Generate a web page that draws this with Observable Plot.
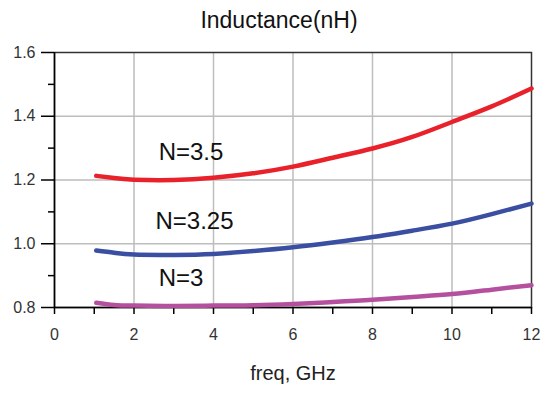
<!DOCTYPE html>
<html>
<head>
<meta charset="utf-8">
<script src="https://cdn.jsdelivr.net/npm/d3@7"></script>
<script src="https://cdn.jsdelivr.net/npm/@observablehq/plot@0.6"></script>
<style>
  body { margin: 0; background: #fff; font-family: "Liberation Sans", Arial, sans-serif; }
  #title { width: 558px; height: 40px; line-height: 40px; text-align: center; font-size: 23px; color: #111; }
</style>
</head>
<body>
<div id="title">Inductance(nH)</div>
<div id="chart"></div>
<script>
const freq = [1.05, 1.5, 2, 3, 4, 5, 6, 7, 8, 9, 10, 11, 12];
const n35  = [1.213, 1.206, 1.201, 1.200, 1.207, 1.221, 1.242, 1.270, 1.299, 1.335, 1.382, 1.431, 1.487];
const n325 = [0.979, 0.972, 0.966, 0.965, 0.968, 0.977, 0.989, 1.004, 1.021, 1.041, 1.063, 1.093, 1.126];
const n3   = [0.815, 0.808, 0.806, 0.805, 0.806, 0.807, 0.811, 0.817, 0.824, 0.833, 0.842, 0.856, 0.870];

const seriesNames = ["N=3.5", "N=3.25", "N=3"];
const seriesColors = ["#e8212b", "#3a4ea2", "#b5509f"];
const labelX = [2.62, 2.54, 2.62];
const labelY = [1.288, 1.071, 0.892];

const xTicks = [0, 1, 2, 3, 4, 5, 6, 7, 8, 9, 10, 11, 12];
const xLabelTicks = [0, 2, 4, 6, 8, 10, 12];
const yMajor = [0.8, 1.0, 1.2, 1.4, 1.6];
const yMinor = [0.9, 1.1, 1.3, 1.5];
const xGrid = [2, 4, 6, 8, 10];
const yGrid = [1.0, 1.2, 1.4];

const rows = [];
[n35, n325, n3].forEach((vals, s) => {
  vals.forEach((v, i) => rows.push({f: freq[i], L: v, series: seriesNames[s]}));
});
const labels = seriesNames.map((n, i) => ({name: n, x: labelX[i], y: labelY[i]}));

const chart = Plot.plot({
  width: 558,
  height: 353,
  marginLeft: 54,
  marginRight: 27,
  marginTop: 12,
  marginBottom: 86,
  style: {fontFamily: '"Liberation Sans", Arial, sans-serif', background: "#fff"},
  x: {domain: [0, 12], axis: null},
  y: {domain: [0.8, 1.6], axis: null},
  color: {domain: seriesNames, range: seriesColors},
  marks: [
    Plot.gridX(xGrid, {stroke: "#bdbdbd", strokeOpacity: 1, strokeWidth: 1.5}),
    Plot.gridY(yGrid, {stroke: "#bdbdbd", strokeOpacity: 1, strokeWidth: 1.5}),
    Plot.frame({stroke: "#333", strokeWidth: 1.5}),
    Plot.axisX(xTicks, {tickSize: 7, tickPadding: 0, tickFormat: () => "", stroke: "#000", strokeWidth: 1.5}),
    Plot.axisX(xLabelTicks, {tickSize: 0, tickPadding: 21, fontSize: 16, fill: "#333", tickFormat: d => String(d), label: null}),
    Plot.axisY(yMajor, {tickSize: 13, tickPadding: 6, fontSize: 16, fill: "#333", stroke: "#000", strokeWidth: 1.5, tickFormat: d => d.toFixed(1), label: null}),
    Plot.axisY(yMinor, {tickSize: 6, tickFormat: () => "", stroke: "#000", strokeWidth: 1.5, label: null}),
    Plot.ruleX([0], {stroke: "#000", strokeWidth: 1.5}),
    Plot.ruleY([0.8], {stroke: "#000", strokeWidth: 1.5}),
    Plot.line(rows, {x: "f", y: "L", z: "series", stroke: "series", strokeWidth: 4.5, curve: "natural"}),
    Plot.text(labels, {x: "x", y: "y", text: "name", textAnchor: "start", fontSize: 24, fill: "#111"}),
    Plot.text(["freq, GHz"], {frameAnchor: "bottom", dy: 66, fontSize: 20, fill: "#222", lineAnchor: "middle"})
  ]
});
document.getElementById("chart").appendChild(chart);
</script>
</body>
</html>
